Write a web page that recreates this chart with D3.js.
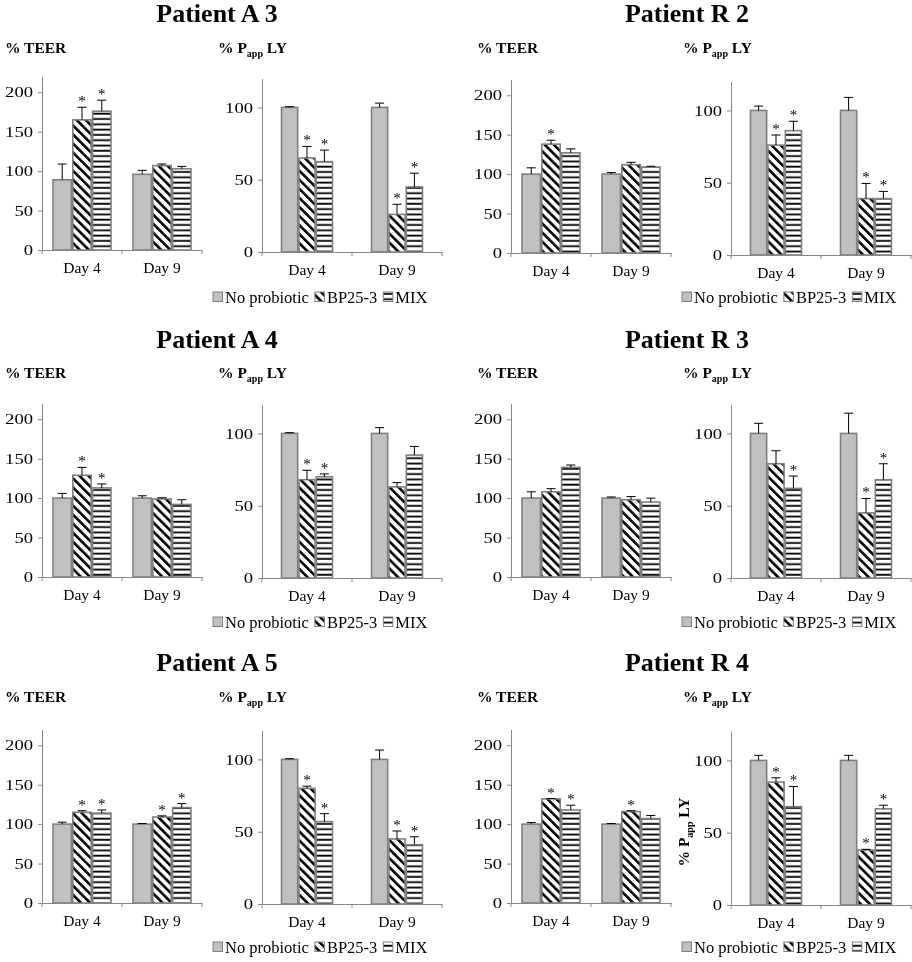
<!DOCTYPE html>
<html><head><meta charset="utf-8">
<script src="https://cdn.jsdelivr.net/npm/d3@7"></script>
<style>body{margin:0;background:#fff} svg{will-change:transform} text{font-family:"Liberation Serif","Times New Roman",serif}</style>
</head><body><svg id="c" width="912" height="962"></svg>
<script>
// ---------------- DATA ----------------
const patients = ["Patient A 3", "Patient R 2", "Patient A 4", "Patient R 3", "Patient A 5", "Patient R 4"];
const days = ["Day 4", "Day 9"];
const series = ["No probiotic", "BP25-3", "MIX"];
const teerTicks = [0, 50, 100, 150, 200];
const pappTicks = [0, 50, 100];

// TEER (% of control) — one [Day 4, Day 9] pair per patient
const teerNoProbiotic = [[89, 96], [100, 100], [100, 100], [100, 100], [100, 100], [100, 100]];
const teerBP253      = [[165, 107], [138, 112], [129, 99], [108, 98], [115, 109], [132, 116]];
const teerMIX        = [[176, 103], [127, 109], [113, 92], [139, 95], [114, 121], [118, 107]];
const teerErrNoProbiotic = [[20, 5], [8, 2], [6, 3], [8, 1.5], [2.5, 0.8], [2, 0.8]];
const teerErrBP253      = [[16, 2], [5, 3], [10, 1.5], [4, 4], [2, 1.5], [0.5, 1]];
const teerErrMIX        = [[14, 3], [5, 1], [5, 6], [3, 5], [4, 5], [6, 4]];
const teerStarBP253 = [[1, 0], [1, 0], [1, 0], [0, 0], [1, 1], [1, 1]];
const teerStarMIX   = [[1, 0], [0, 0], [1, 0], [0, 0], [1, 1], [1, 0]];

// Papp LY (% of control)
const pappNoProbiotic = [[100, 100], [100, 100], [100, 100], [100, 100], [100, 100], [100, 100]];
const pappBP253      = [[65, 26], [76, 39], [68, 63], [79, 45], [80, 45], [85, 38]];
const pappMIX        = [[62.5, 45], [86, 39], [70, 85], [62, 68], [57, 41], [68, 66.5]];
const pappErrNoProbiotic = [[0.5, 3], [3, 9], [0.5, 4], [7, 14], [0.5, 6.5], [3.5, 3.5]];
const pappErrBP253      = [[8, 7], [7, 10.5], [6.5, 3], [9, 10], [1.5, 5.5], [3, 0.5]];
const pappErrMIX        = [[8, 9.5], [6.5, 5], [2, 6], [8.5, 11], [5.5, 5.5], [14, 2.5]];
const pappStarBP253 = [[1, 1], [1, 1], [1, 0], [0, 1], [1, 1], [1, 1]];
const pappStarMIX   = [[1, 1], [1, 1], [1, 0], [1, 1], [1, 1], [1, 1]];

// ---------------- LAYOUT ----------------
const svg = d3.select("#c");
const AXC = "#868686";
const fills = ["#c0c0c0", "url(#diag)", "url(#horiz)"];

const defs = svg.append("defs");
defs.append("pattern").attr("id", "diag").attr("patternUnits", "userSpaceOnUse")
  .attr("width", 6.4).attr("height", 6.4).attr("patternTransform", "rotate(-45)")
  .call(p => {
    p.append("rect").attr("width", 6.4).attr("height", 6.4).attr("fill", "#fff");
    p.append("rect").attr("width", 2.6).attr("height", 6.4).attr("fill", "#000");
  });
defs.append("pattern").attr("id", "horiz").attr("patternUnits", "userSpaceOnUse")
  .attr("width", 6).attr("height", 5.3)
  .call(p => {
    p.append("rect").attr("width", 6).attr("height", 5.3).attr("fill", "#fff");
    p.append("rect").attr("y", 1.5).attr("width", 6).attr("height", 1.8).attr("fill", "#000");
  });

const colTeerX = [42, 511], colPappX = [262, 731];
const rowTeerY = [[250, 253], [577, 577], [903, 903]];
const rowPappY = [[252, 255], [578, 578], [904, 905]];
const titleX = [217, 687], titleY = [22, 348, 671];
const labelY = [53, 378, 702];
const teerLabelX = [5, 477], pappLabelX = [218, 683];
const legendX = [213, 682], legendY = [297, 622, 947];
const PLOT_H = 173.5;

function panel(x0, y0, width, maxV, ticks, means, errs, stars, inner) {
  const g = svg.append("g");
  const x = d3.scaleBand().domain(days).range([x0, x0 + width]).padding(0);
  const xs = d3.scaleBand().domain(series).range(inner).paddingInner(0.07);
  const y = d3.scaleLinear().domain([0, maxV]).range([y0, y0 - PLOT_H]);

  series.forEach((s, si) => {
    days.forEach((d, di) => {
      const v = means[si][di];
      const bx = x(d) + xs(s);
      g.append("rect").attr("x", bx).attr("y", y(v))
        .attr("width", xs.bandwidth()).attr("height", y(0) - y(v))
        .attr("fill", fills[si]).attr("stroke", "#808080").attr("stroke-width", 1.6);
      const top = y(v + errs[si][di]);
      const cx = bx + xs.bandwidth() / 2;
      g.append("line").attr("x1", cx).attr("x2", cx).attr("y1", y(v)).attr("y2", top)
        .attr("stroke", "#000").attr("stroke-width", 1);
      g.append("line").attr("x1", cx - 4.5).attr("x2", cx + 4.5).attr("y1", top).attr("y2", top)
        .attr("stroke", "#000").attr("stroke-width", 1);
      if (stars[si] && stars[si][di]) {
        g.append("text").attr("x", cx).attr("y", top - 1).attr("text-anchor", "middle")
          .attr("font-size", 15).attr("fill", "#000").text("*");
      }
    });
  });

  const ya = g.append("g").attr("transform", `translate(${x0},0)`)
    .call(d3.axisLeft(y).tickValues(ticks).tickSize(4).tickSizeOuter(0).tickPadding(5));
  ya.attr("font-family", null);
  ya.select(".domain").attr("stroke", AXC);
  ya.selectAll(".tick line").attr("stroke", AXC);
  ya.selectAll(".tick text").attr("font-size", 14.5).attr("fill", "#000")
    .attr("textLength", d => String(d).length * 9.3).attr("lengthAdjust", "spacingAndGlyphs");

  const xa = g.append("g").attr("transform", `translate(0,${y0})`)
    .call(d3.axisBottom(x).tickSize(0).tickPadding(12));
  xa.attr("font-family", null);
  xa.select(".domain").attr("stroke", AXC);
  xa.selectAll(".tick text").attr("font-size", 15.5).attr("fill", "#000");
  const bounds = days.map(d => x(d)).concat([x0 + width]);
  xa.selectAll(".bnd").data(bounds).enter().append("line").attr("class", "bnd")
    .attr("x1", d => d).attr("x2", d => d).attr("y1", 0).attr("y2", 4).attr("stroke", AXC);
}

function pappLabel(g, x, y, rotate) {
  const t = g.append("text").attr("x", x).attr("y", y)
    .attr("font-weight", "bold").attr("font-size", 15.5);
  if (rotate) t.attr("transform", `rotate(-90,${x},${y})`).attr("text-anchor", "middle");
  t.append("tspan").text("% P");
  t.append("tspan").attr("font-size", 10).attr("dy", 4).text("app");
  t.append("tspan").attr("dy", -4).text(" LY");
}

function legend(x, y) {
  const g = svg.append("g");
  let cx = x;
  series.forEach((s, si) => {
    g.append("rect").attr("x", cx).attr("y", y - 5).attr("width", 9.5).attr("height", 9.5)
      .attr("fill", fills[si]).attr("stroke", "#808080").attr("stroke-width", 1);
    const t = g.append("text").attr("x", cx + 12).attr("y", y + 5.5)
      .attr("font-size", 16.5).attr("fill", "#000").text(s);
    cx += 12 + t.node().getComputedTextLength() + 6;
  });
}

patients.forEach((p, i) => {
  const row = Math.floor(i / 2), col = i % 2;
  svg.append("text").attr("x", titleX[col]).attr("y", titleY[row]).attr("text-anchor", "middle")
    .attr("font-weight", "bold").attr("font-size", 26).text(p);
  svg.append("text").attr("x", teerLabelX[col]).attr("y", labelY[row])
    .attr("font-weight", "bold").attr("font-size", 15.5).text("% TEER");
  pappLabel(svg, pappLabelX[col], labelY[row], false);

  panel(colTeerX[col], rowTeerY[row][col], 160, 220, teerTicks,
    [teerNoProbiotic[i], teerBP253[i], teerMIX[i]],
    [teerErrNoProbiotic[i], teerErrBP253[i], teerErrMIX[i]],
    [null, teerStarBP253[i], teerStarMIX[i]], [11, 69]);
  panel(colPappX[col], rowPappY[row][col], 180, 120, pappTicks,
    [pappNoProbiotic[i], pappBP253[i], pappMIX[i]],
    [pappErrNoProbiotic[i], pappErrBP253[i], pappErrMIX[i]],
    [null, pappStarBP253[i], pappStarMIX[i]], [19.5, 70.5]);
  legend(legendX[col], legendY[row]);
});
// extra rotated axis title on the last panel
pappLabel(svg, 689, 832, true);
</script></body></html>
